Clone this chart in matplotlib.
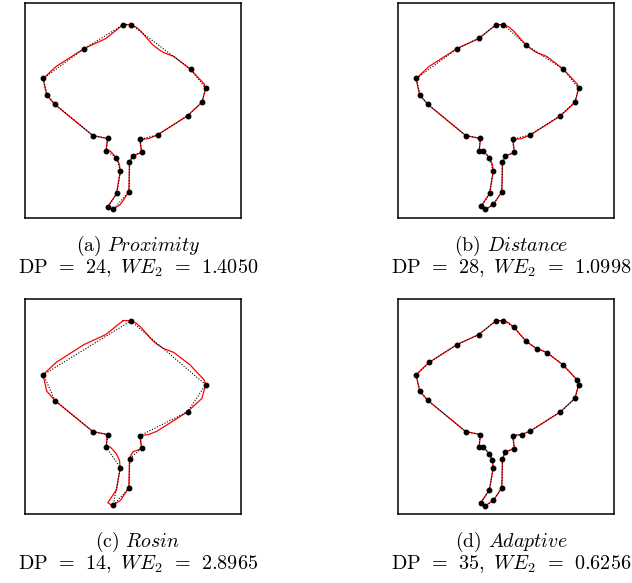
import matplotlib
matplotlib.use("Agg")
import matplotlib.pyplot as plt

plt.rcParams["mathtext.fontset"] = "cm"
plt.rcParams["font.family"] = ["cmr10", "DejaVu Serif"]
plt.rcParams["axes.unicode_minus"] = False

# Original contour (clockwise from the top), frame units 0..647, y pointing down
contour_x = [294, 316, 332, 347, 382, 398, 415, 446, 495, 537, 541, 530, 486, 395, 370, 344,
             349, 323, 313, 311, 286, 262, 248, 274, 285, 283, 274, 255, 243, 247, 203, 89,
             65, 54, 93, 177, 242, 268]
contour_y = [65, 65, 72, 85, 125, 138, 149, 161, 199, 244, 258, 299, 340, 398, 408, 411,
             450, 460, 479, 568, 606, 622, 613, 574, 508, 486, 466, 445, 445, 408, 399, 305,
             277, 228, 191, 137, 107, 86]

# Dominant points found by each method
prox_x = [295, 318, 496, 541, 530, 487, 397, 345, 350, 324, 313, 312, 264, 249, 275, 286,
          274, 243, 248, 204, 90, 66, 55, 178]
prox_y = [65, 65, 199, 257, 298, 339, 397, 410, 449, 459, 478, 568, 621, 613, 573, 507,
          465, 445, 407, 399, 305, 277, 227, 137]

dist_x = [294, 316, 382, 495, 541, 530, 486, 395, 343, 348, 322, 313, 311, 286, 262, 249,
          275, 285, 274, 255, 243, 247, 203, 90, 66, 55, 178, 242]
dist_y = [65, 65, 125, 199, 257, 298, 339, 397, 410, 449, 459, 479, 568, 605, 621, 612,
          573, 507, 465, 445, 445, 407, 399, 305, 277, 227, 137, 106]

rosin_x = [317, 541, 487, 345, 350, 314, 312, 264, 286, 243, 248, 204, 90, 55]
rosin_y = [66, 258, 339, 411, 449, 480, 568, 621, 508, 446, 408, 399, 306, 228]

adapt_x = [294, 316, 347, 382, 415, 446, 495, 537, 541, 530, 486, 395, 370, 343, 348, 322,
           313, 311, 286, 262, 248, 274, 285, 283, 273, 255, 242, 247, 203, 89, 65, 54,
           93, 177, 242]
adapt_y = [65, 65, 85, 125, 149, 161, 199, 244, 258, 299, 340, 398, 408, 411, 450, 460,
           480, 568, 606, 622, 613, 574, 509, 486, 466, 445, 445, 408, 399, 305, 277, 228,
           191, 137, 107]

labels = [r"(a) $\it{Proximity}$", r"(b) $\it{Distance}$",
          r"(c) $\it{Rosin}$", r"(d) $\it{Adaptive}$"]
dp_counts = [24, 28, 14, 35]
we2_values = ["1.4050", "1.0998", "2.8965", "0.6256"]
point_sets = [(prox_x, prox_y), (dist_x, dist_y), (rosin_x, rosin_y), (adapt_x, adapt_y)]

W, H = 632, 583
fig = plt.figure(figsize=(W / 100, H / 100), dpi=100)

# panel frames in pixels: left, top, right, bottom
frames = [(25, 3, 241, 218), (398, 3, 614, 218), (25, 299, 241, 514), (398, 299, 614, 514)]

for i, (l, t, r, b) in enumerate(frames):
    ax = fig.add_axes([l / W, 1 - b / H, (r - l) / W, (b - t) / H])
    ax.plot(contour_x + contour_x[:1], contour_y + contour_y[:1], color="red", lw=0.9,
            solid_joinstyle="round", zorder=2)
    px, py = point_sets[i]
    ax.plot(px + px[:1], py + py[:1], color="black", lw=0.8, linestyle=(0, (1, 1.5)),
            zorder=3)
    ax.plot(px, py, "o", color="black", markersize=3.2, zorder=4)
    ax.set_xlim(0, 647)
    ax.set_ylim(647, 0)
    ax.set_xticks([])
    ax.set_yticks([])
    for s in ax.spines.values():
        s.set_linewidth(1.1)
    cx = (l + r) / 2 + 5
    fig.text(cx / W, 1 - (b + 28) / H, labels[i], ha="center", va="center", fontsize=14.3)
    fig.text(cx / W, 1 - (b + 50) / H,
             r"$\mathrm{DP}\;\,=\;\,\mathrm{%d},\ WE_2\;\,=\;\,\mathrm{%s}$"
             % (dp_counts[i], we2_values[i]),
             ha="center", va="center", fontsize=14.5)

fig.savefig("out.png", dpi=100)
